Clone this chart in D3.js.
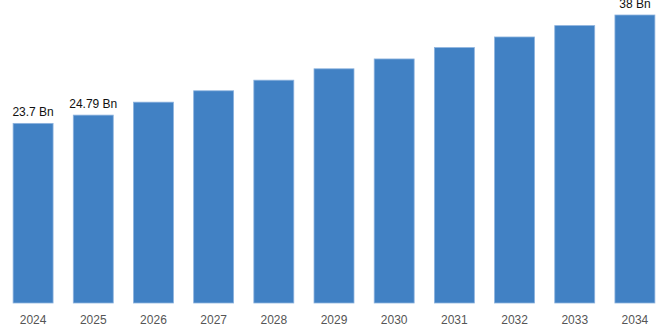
<!DOCTYPE html>
<html>
<head>
<meta charset="utf-8">
<script src="https://cdn.jsdelivr.net/npm/d3@7"></script>
<style>
  html, body { margin: 0; padding: 0; background: #fff; }
  svg { display: block; }
</style>
</head>
<body>
<svg id="chart" width="668" height="334"></svg>
<script>
// Market size by year (USD billion)
const years = ["2024", "2025", "2026", "2027", "2028", "2029", "2030", "2031", "2032", "2033", "2034"];
const values = [23.7, 24.79, 26.5, 28.0, 29.4, 30.9, 32.2, 33.7, 35.1, 36.6, 38];
// Value labels shown only for selected years
const labeledYears = ["2024", "2025", "2034"];
const labelText = ["23.7 Bn", "24.79 Bn", "38 Bn"];

const width = 668, height = 334;
const baseY = 303, topY = 15;

const svg = d3.select("#chart");

const x = d3.scaleBand()
  .domain(years)
  .range([3, 665])
  .paddingInner(0.336)
  .paddingOuter(0.168);

const y = d3.scaleLinear()
  .domain([0, d3.max(values)])
  .range([baseY, topY]);

const data = years.map((yr, i) => ({ year: yr, value: values[i] }));

svg.append("g")
  .selectAll("rect")
  .data(data)
  .join("rect")
  .attr("x", d => x(d.year))
  .attr("y", d => y(d.value))
  .attr("width", x.bandwidth())
  .attr("height", d => y(0) - y(d.value))
  .attr("fill", "#4181c4")
  .attr("stroke", "#8db3de")
  .attr("stroke-width", 0.8);

// Value labels above bars
svg.append("g")
  .selectAll("text")
  .data(labeledYears.map((yr, i) => ({ year: yr, text: labelText[i], value: values[years.indexOf(yr)] })))
  .join("text")
  .attr("x", d => x(d.year) + x.bandwidth() / 2)
  .attr("y", d => y(d.value) - 7)
  .attr("text-anchor", "middle")
  .attr("font-family", "Liberation Sans, Arial, sans-serif")
  .attr("font-size", 12)
  .attr("fill", "#111")
  .text(d => d.text);

// Year axis
const axis = svg.append("g")
  .attr("transform", `translate(0,${baseY})`)
  .call(d3.axisBottom(x).tickSize(0).tickPadding(12));
axis.select(".domain").remove();
axis.selectAll("text")
  .attr("font-family", "Liberation Sans, Arial, sans-serif")
  .attr("font-size", 12)
  .attr("fill", "#555");
</script>
</body>
</html>
